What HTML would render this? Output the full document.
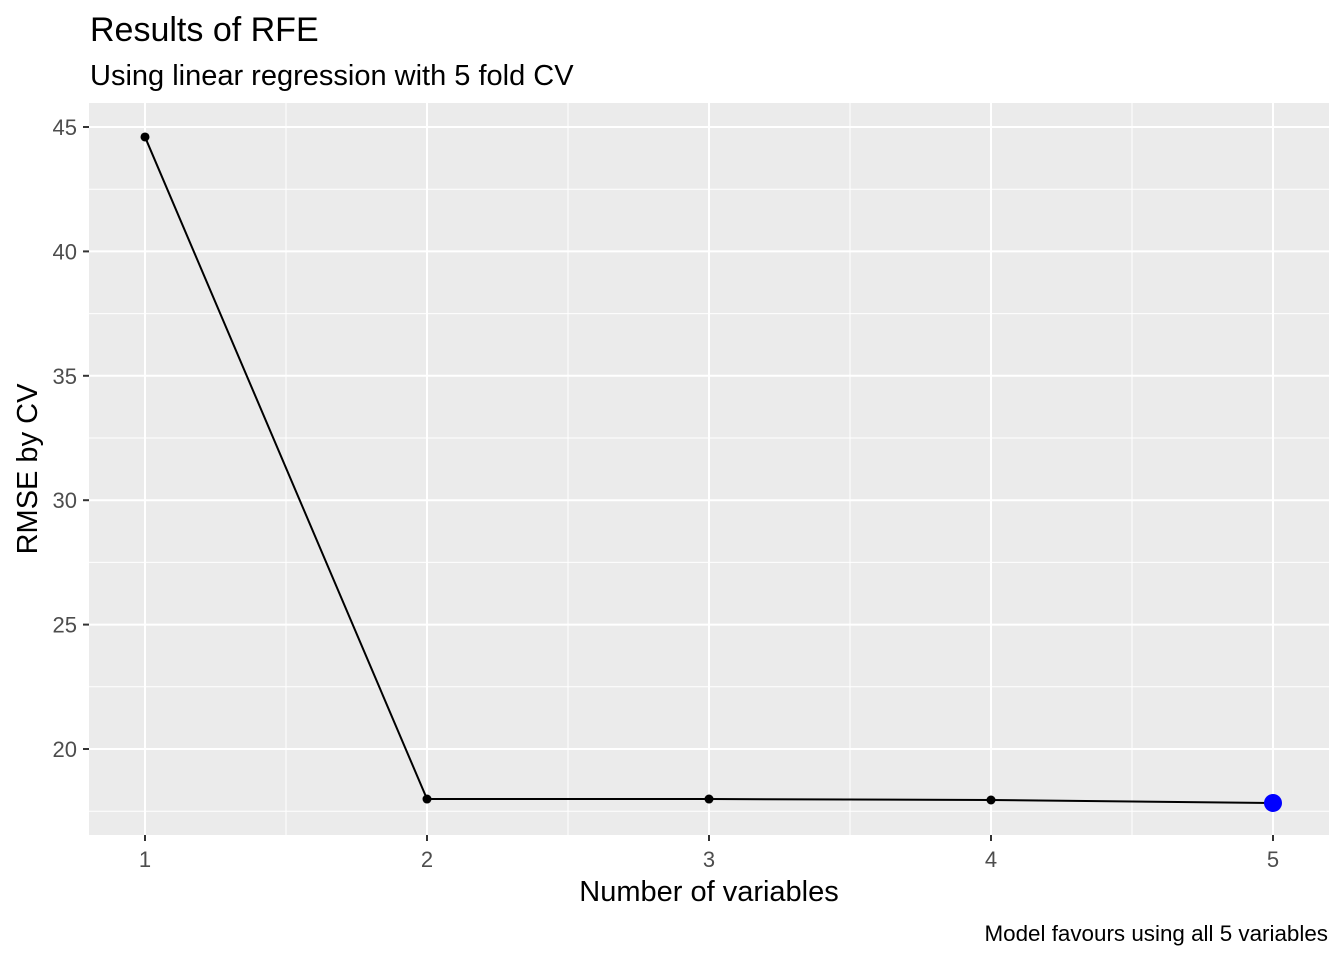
<!DOCTYPE html>
<html><head><meta charset="utf-8"><style>body{margin:0;background:#fff}svg{display:block;font-family:"Liberation Sans",Arial,sans-serif}</style></head>
<body>
<svg id="c" width="1344" height="960">
<text x="90" y="41" font-size="34" fill="#000">Results of RFE</text>
<text x="90" y="85" font-size="29" fill="#000">Using linear regression with 5 fold CV</text>
<rect x="89" y="103" width="1240" height="732" fill="#ebebeb"/>
<g id="grid"></g><g id="axes"></g><g id="marks"></g>
<text x="709" y="901" font-size="29" text-anchor="middle" fill="#000">Number of variables</text>
<text transform="translate(37,469) rotate(-90)" font-size="29" text-anchor="middle" fill="#000">RMSE by CV</text>
<text x="1328" y="941" font-size="22.4" text-anchor="end" fill="#000">Model favours using all 5 variables</text>
</svg>
<script>
const xVals=[1,2,3,4,5];
const rmse=[44.6,17.99,17.99,17.95,17.83];
const yTicks=[20,25,30,35,40,45];
const xTicks=[1,2,3,4,5];
const best=5;
const ns="http://www.w3.org/2000/svg";
const X=v=>145+(v-1)*282;
const Y=v=>749-(v-20)*24.88;
function mk(p,t,a){const e=document.createElementNS(ns,t);for(const k in a)e.setAttribute(k,a[k]);document.getElementById(p).appendChild(e);return e;}
for(let v=17.5;v<=47.5;v+=5){const y=Y(v);if(y>103&&y<835){const l=mk('grid','line',{x1:89,x2:1329,y1:y,y2:y,stroke:'#fff','stroke-width':1});

}}
for(let v=1.5;v<5;v+=1){const l=mk('grid','line',{x1:X(v),x2:X(v),y1:103,y2:835,stroke:'#fff','stroke-width':1});

}
yTicks.forEach(v=>{const y=Y(v);
const l=mk('grid','line',{x1:89,x2:1329,y1:y,y2:y,stroke:'#fff','stroke-width':2});


mk('axes','line',{x1:83,x2:89,y1:y,y2:y,stroke:'#333','stroke-width':2});
const t=mk('axes','text',{x:77,y:y+8,'font-size':22,'text-anchor':'end',fill:'#4d4d4d'});t.textContent=v;

});
xTicks.forEach(v=>{const x=X(v);
const l=mk('grid','line',{x1:x,x2:x,y1:103,y2:835,stroke:'#fff','stroke-width':2});


mk('axes','line',{x1:x,x2:x,y1:835,y2:841,stroke:'#333','stroke-width':2});
const t=mk('axes','text',{x:x,y:867,'font-size':22,'text-anchor':'middle',fill:'#4d4d4d'});t.textContent=v;

});
const pl=mk('marks','polyline',{points:xVals.map((v,i)=>X(v)+','+Y(rmse[i])).join(' '),fill:'none',stroke:'#000','stroke-width':2});


xVals.forEach((v,i)=>{const c=mk('marks','circle',{cx:X(v),cy:Y(rmse[i]),r:4.5,fill:'#000'});

});
const bi=xVals.indexOf(best);
const b=mk('marks','circle',{cx:X(best),cy:Y(rmse[bi]),r:9,fill:'#0000ff'});


</script>
</body></html>
